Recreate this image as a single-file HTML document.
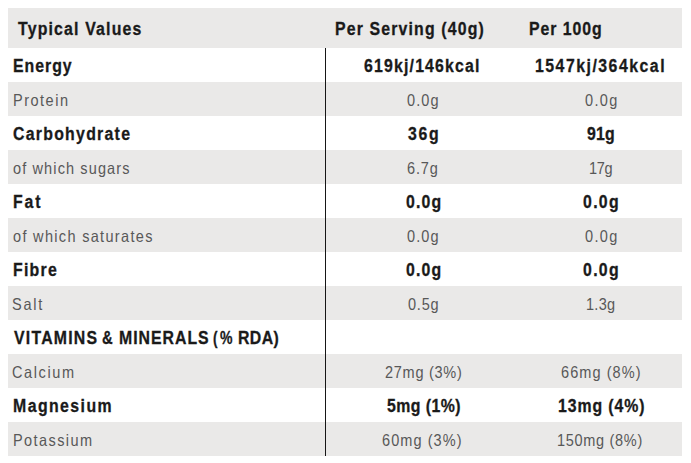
<!DOCTYPE html>
<html><head><meta charset="utf-8">
<style>
html,body{margin:0;padding:0;background:#fff;}
body{width:691px;height:463px;overflow:hidden;position:relative;font-family:"Liberation Sans",sans-serif;}
.bg{position:absolute;left:8px;width:674px;height:34px;background:#eae9e8;}
.vl{position:absolute;left:325px;top:48px;width:1px;height:408px;background:#161616;}
.t{position:absolute;white-space:nowrap;line-height:20px;height:20px;transform-origin:0 0;}
.h,.b{font-weight:bold;color:#1a1a1a;-webkit-text-stroke:0.3px #1a1a1a;}
.r{font-weight:normal;color:#585858;}
</style></head><body>
<div class="bg" style="top:8px;height:40px"></div>
<div class="bg" style="top:82px"></div>
<div class="bg" style="top:150px"></div>
<div class="bg" style="top:218px"></div>
<div class="bg" style="top:286px"></div>
<div class="bg" style="top:354px"></div>
<div class="bg" style="top:422px"></div>
<div class="vl"></div>
<div class="t h" style="left:17.95px;top:19.00px;font-size:18px;letter-spacing:1.340px;transform:scaleX(0.88)">Typical Values</div>
<div class="t h" style="left:335.40px;top:19.00px;font-size:18px;letter-spacing:1.317px;transform:scaleX(0.88)">Per Serving (40g)</div>
<div class="t h" style="left:529.39px;top:19.00px;font-size:18px;letter-spacing:1.062px;transform:scaleX(0.88)">Per 100g</div>
<div class="t b" style="left:12.80px;top:56.00px;font-size:18px;letter-spacing:1.130px;transform:scaleX(0.88)">Energy</div>
<div class="t b" style="left:364.37px;top:56.00px;font-size:18px;letter-spacing:1.342px;transform:scaleX(0.88)">619kj/146kcal</div>
<div class="t b" style="left:534.82px;top:56.00px;font-size:18px;letter-spacing:1.698px;transform:scaleX(0.88)">1547kj/364kcal</div>
<div class="t r" style="left:12.79px;top:90.00px;font-size:16.5px;letter-spacing:1.702px;transform:scaleX(0.88)">Protein</div>
<div class="t r" style="left:407.13px;top:90.00px;font-size:16.5px;letter-spacing:1.252px;transform:scaleX(0.88)">0.0g</div>
<div class="t r" style="left:584.93px;top:90.00px;font-size:16.5px;letter-spacing:1.540px;transform:scaleX(0.88)">0.0g</div>
<div class="t b" style="left:13.46px;top:124.00px;font-size:18px;letter-spacing:1.442px;transform:scaleX(0.88)">Carbohydrate</div>
<div class="t b" style="left:407.74px;top:124.00px;font-size:18px;letter-spacing:1.918px;transform:scaleX(0.88)">36g</div>
<div class="t b" style="left:586.95px;top:124.00px;font-size:18px;letter-spacing:0.244px;transform:scaleX(0.88)">91g</div>
<div class="t r" style="left:12.76px;top:158.00px;font-size:16.5px;letter-spacing:1.270px;transform:scaleX(0.88)">of which sugars</div>
<div class="t r" style="left:406.79px;top:158.00px;font-size:16.5px;letter-spacing:0.928px;transform:scaleX(0.88)">6.7g</div>
<div class="t r" style="left:588.82px;top:158.00px;font-size:16.5px;letter-spacing:-0.349px;transform:scaleX(0.88)">17g</div>
<div class="t b" style="left:12.71px;top:192.00px;font-size:18px;letter-spacing:2.188px;transform:scaleX(0.88)">Fat</div>
<div class="t b" style="left:405.53px;top:192.00px;font-size:18px;letter-spacing:1.360px;transform:scaleX(0.88)">0.0g</div>
<div class="t b" style="left:582.56px;top:192.00px;font-size:18px;letter-spacing:1.504px;transform:scaleX(0.88)">0.0g</div>
<div class="t r" style="left:12.76px;top:226.00px;font-size:16.5px;letter-spacing:1.495px;transform:scaleX(0.88)">of which saturates</div>
<div class="t r" style="left:407.13px;top:226.00px;font-size:16.5px;letter-spacing:1.252px;transform:scaleX(0.88)">0.0g</div>
<div class="t r" style="left:584.93px;top:226.00px;font-size:16.5px;letter-spacing:1.540px;transform:scaleX(0.88)">0.0g</div>
<div class="t b" style="left:13.11px;top:260.00px;font-size:18px;letter-spacing:1.432px;transform:scaleX(0.88)">Fibre</div>
<div class="t b" style="left:405.53px;top:260.00px;font-size:18px;letter-spacing:1.360px;transform:scaleX(0.88)">0.0g</div>
<div class="t b" style="left:582.56px;top:260.00px;font-size:18px;letter-spacing:1.504px;transform:scaleX(0.88)">0.0g</div>
<div class="t r" style="left:12.40px;top:294.00px;font-size:16.5px;letter-spacing:2.008px;transform:scaleX(0.88)">Salt</div>
<div class="t r" style="left:407.53px;top:294.00px;font-size:16.5px;letter-spacing:0.892px;transform:scaleX(0.88)">0.5g</div>
<div class="t r" style="left:586.18px;top:294.00px;font-size:16.5px;letter-spacing:0.316px;transform:scaleX(0.88)">1.3g</div>
<div class="t b" style="left:13.65px;top:328.00px;font-size:18px;letter-spacing:1.386px;transform:scaleX(0.88)">VITAMINS</div>
<div class="t b" style="left:102.14px;top:328.00px;font-size:18px;letter-spacing:0.000px;transform:scaleX(0.8205747730965713)">&amp;</div>
<div class="t b" style="left:118.79px;top:328.00px;font-size:18px;letter-spacing:1.123px;transform:scaleX(0.88)">MINERALS</div>
<div class="t b" style="left:213.30px;top:328.00px;font-size:18px;letter-spacing:0.000px;transform:scaleX(0.75)">(</div>
<div class="t b" style="left:219.60px;top:328.00px;font-size:18px;letter-spacing:0.000px;transform:scaleX(0.78)">%</div>
<div class="t b" style="left:237.79px;top:328.00px;font-size:18px;letter-spacing:0.460px;transform:scaleX(0.88)">RDA)</div>
<div class="t r" style="left:11.81px;top:362.00px;font-size:16.5px;letter-spacing:1.810px;transform:scaleX(0.88)">Calcium</div>
<div class="t r" style="left:384.58px;top:362.00px;font-size:16.5px;letter-spacing:0.825px;transform:scaleX(0.88)">27mg (3%)</div>
<div class="t r" style="left:560.79px;top:362.00px;font-size:16.5px;letter-spacing:1.216px;transform:scaleX(0.88)">66mg (8%)</div>
<div class="t b" style="left:12.71px;top:396.00px;font-size:18px;letter-spacing:1.634px;transform:scaleX(0.88)">Magnesium</div>
<div class="t b" style="left:386.53px;top:396.00px;font-size:18px;letter-spacing:0.491px;transform:scaleX(0.88)">5mg (1%)</div>
<div class="t b" style="left:557.58px;top:396.00px;font-size:18px;letter-spacing:1.027px;transform:scaleX(0.88)">13mg (4%)</div>
<div class="t r" style="left:12.61px;top:430.00px;font-size:16.5px;letter-spacing:1.594px;transform:scaleX(0.88)">Potassium</div>
<div class="t r" style="left:382.42px;top:430.00px;font-size:16.5px;letter-spacing:1.202px;transform:scaleX(0.88)">60mg (3%)</div>
<div class="t r" style="left:557.42px;top:430.00px;font-size:16.5px;letter-spacing:0.784px;transform:scaleX(0.88)">150mg (8%)</div>
</body></html>
